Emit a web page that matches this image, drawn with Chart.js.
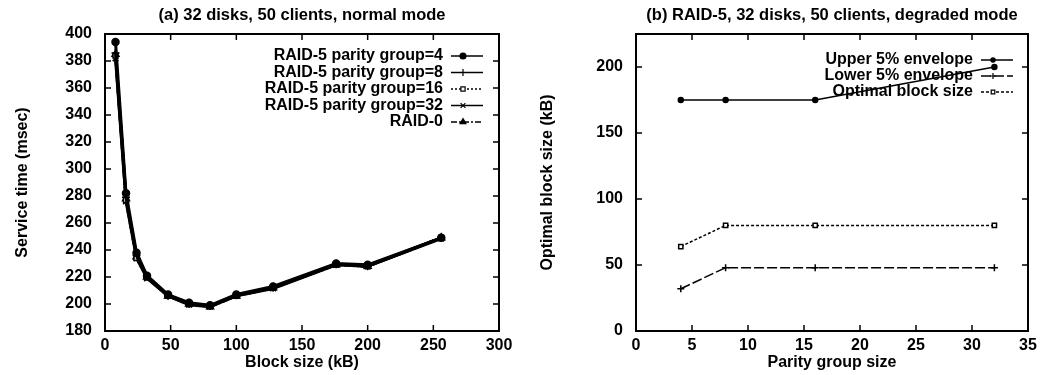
<!DOCTYPE html>
<html>
<head>
<meta charset="utf-8">
<script src="https://cdn.jsdelivr.net/npm/chart.js@4.4.1/dist/chart.umd.min.js"></script>
<style>
  body { margin: 0; background: #fff; }
  #wrap { position: relative; width: 1042px; height: 375px; }
  canvas { position: absolute; top: 0; }
  #c1 { left: 0; }
  #c2 { left: 520px; }
</style>
</head>
<body>
<div id="wrap">
  <canvas id="c1" width="520" height="375"></canvas>
  <canvas id="c2" width="522" height="375"></canvas>
</div>
<script>
// (a) service time vs block size
var blockSizes = [8, 16, 24, 32, 48, 64, 80, 100, 128, 176, 200, 256];
var raid5g4  = [394, 282, 238, 221, 207, 201, 199, 207, 213, 230, 229, 249];
var raid5g8  = [386, 279, 236, 220, 206, 200, 198.5, 206.5, 212, 229.5, 228, 249];
var raid5g16 = [384, 277, 234, 220, 206, 200, 198.5, 206, 212, 229.5, 228, 249];
var raid5g32 = [382, 276, 234, 219, 206, 199.5, 198, 206, 211.5, 229, 228, 248.5];
var raid0    = [385, 278, 235, 220, 206, 200, 198, 206, 212, 229, 228, 249];
var xTicksA = [0, 50, 100, 150, 200, 250, 300];
var yTicksA = [180, 200, 220, 240, 260, 280, 300, 320, 340, 360, 380, 400];

// (b) optimal block size vs parity group size
var parityGroups = [4, 8, 16, 32];
var upperEnv     = [175, 175, 175, 200];
var lowerEnv     = [32, 48, 48, 48];
var optimalBlock = [64, 80, 80, 80];
var xTicksB = [0, 5, 10, 15, 20, 25, 30, 35];
var yTicksB = [0, 50, 100, 150, 200];

Chart.defaults.color = '#000';
Chart.defaults.font.family = '"Liberation Sans", Arial, sans-serif';
Chart.defaults.font.weight = 'bold';
Chart.defaults.font.size = 16;

function pts(xs, ys) {
    return xs.map(function(x, i) { return {x: x, y: ys[i]}; });
}

// gnuplot style key: text right aligned, sample to the right
var keyPlugin = {
    id: 'key',
    beforeDatasetsDraw: function(chart, args, opts) {
        var ctx = chart.ctx;
        ctx.save();
        ctx.font = 'bold 16px "Liberation Sans", Arial, sans-serif';
        ctx.textAlign = 'right';
        ctx.textBaseline = 'middle';
        chart.data.datasets.forEach(function(ds, i) {
            var y = opts.top + i * opts.spacing;
            ctx.fillStyle = '#000';
            ctx.fillText(ds.label, opts.right, y);
            ctx.beginPath();
            ctx.setLineDash(ds.borderDash || []);
            ctx.lineWidth = 1.5;
            ctx.strokeStyle = '#000';
            ctx.moveTo(opts.right + 8, y);
            ctx.lineTo(opts.right + 40, y);
            ctx.stroke();
            ctx.setLineDash([]);
            ctx.fillStyle = ds.pointBackgroundColor;
            ctx.lineWidth = 1.2;
            Chart.helpers.drawPoint(ctx, {pointStyle: ds.pointStyle, radius: ds.pointRadius * 0.85, rotation: 0, borderWidth: 1.2}, opts.right + 20, y);
        });
        ctx.restore();
    }
};

// box round the plot with inward ticks on all sides
var framePlugin = {
    id: 'frame',
    afterDraw: function(chart) {
        var ctx = chart.ctx, a = chart.chartArea, sx = chart.scales.x, sy = chart.scales.y;
        ctx.save();
        ctx.strokeStyle = '#000';
        ctx.lineWidth = 2;
        ctx.strokeRect(a.left, a.top, a.right - a.left, a.bottom - a.top);
        ctx.lineWidth = 1.5;
        ctx.beginPath();
        sx.ticks.forEach(function(t) {
            var px = sx.getPixelForValue(t.value);
            ctx.moveTo(px, a.bottom); ctx.lineTo(px, a.bottom - 6);
            ctx.moveTo(px, a.top); ctx.lineTo(px, a.top + 6);
        });
        sy.ticks.forEach(function(t) {
            var py = sy.getPixelForValue(t.value);
            ctx.moveTo(a.left, py); ctx.lineTo(a.left + 6, py);
            ctx.moveTo(a.right, py); ctx.lineTo(a.right - 6, py);
        });
        ctx.stroke();
        ctx.restore();
    }
};

function ds(label, xs, ys, style, radius, dash, fill, width) {
    return {
        label: label,
        data: pts(xs, ys),
        borderColor: '#000',
        borderWidth: width,
        borderDash: dash,
        pointStyle: style,
        pointRadius: radius,
        pointBorderWidth: 1.5,
        pointBorderColor: '#000',
        pointBackgroundColor: fill,
        showLine: true,
        tension: 0
    };
}

function opts(title, xTitle, yTitle, xmin, xmax, ymin, ymax, xTicks, yTicks, yWidth, yTitlePad, padRight, key) {
    return {
        responsive: false,
        animation: false,
        devicePixelRatio: 1,
        layout: { padding: { left: 0, right: padRight, top: 0, bottom: 0 } },
        plugins: {
            legend: { display: false },
            tooltip: { enabled: false },
            title: {
                display: true,
                text: title,
                fullSize: false,
                font: { size: 16.5, weight: 'bold' },
                padding: { top: 6, bottom: 8.2 }
            },
            key: key
        },
        scales: {
            x: {
                type: 'linear',
                min: xmin, max: xmax,
                grid: { display: false, drawTicks: false },
                border: { display: false },
                ticks: { padding: 5, autoSkip: false },
                afterBuildTicks: function(s) { s.ticks = xTicks.map(function(v) { return {value: v}; }); },
                afterFit: function(s) { s.height = 44; },
                title: { display: true, text: xTitle, padding: { top: 0, bottom: 3 } }
            },
            y: {
                type: 'linear',
                min: ymin, max: ymax,
                grid: { display: false, drawTicks: false },
                border: { display: false },
                ticks: { padding: 13, autoSkip: false },
                afterBuildTicks: function(s) { s.ticks = yTicks.map(function(v) { return {value: v}; }); },
                afterFit: function(s) { s.width = yWidth; },
                title: { display: true, text: yTitle, padding: { top: yTitlePad, bottom: 0 } }
            }
        }
    };
}

new Chart(document.getElementById('c1'), {
    type: 'scatter',
    data: {
        datasets: [
            ds('RAID-5 parity group=4', blockSizes, raid5g4, 'circle', 3.5, [], '#000', 3),
            ds('RAID-5 parity group=8', blockSizes, raid5g8, 'cross', 4, [], '#000', 3),
            ds('RAID-5 parity group=16', blockSizes, raid5g16, 'rect', 3.5, [2, 2], '#fff', 3),
            ds('RAID-5 parity group=32', blockSizes, raid5g32, 'crossRot', 4, [], '#000', 3),
            ds('RAID-0', blockSizes, raid0, 'triangle', 4, [6, 2, 2, 2], '#000', 3)
        ]
    },
    options: opts('(a) 32 disks, 50 clients, normal mode', 'Block size (kB)', 'Service time (msec)',
        0, 300, 180, 400, xTicksA, yTicksA, 105, 13, 21,
        { right: 443, top: 56, spacing: 16.5 }),
    plugins: [keyPlugin, framePlugin]
});

new Chart(document.getElementById('c2'), {
    type: 'scatter',
    data: {
        datasets: [
            ds('Upper 5% envelope', parityGroups, upperEnv, 'circle', 2.5, [], '#000', 1.5),
            ds('Lower 5% envelope', parityGroups, lowerEnv, 'cross', 3.5, [10, 3], '#000', 1.5),
            ds('Optimal block size', parityGroups, optimalBlock, 'rect', 3, [3, 2], '#fff', 1.5)
        ]
    },
    options: opts('(b) RAID-5, 32 disks, 50 clients, degraded mode', 'Parity group size', 'Optimal block size (kB)',
        0, 35, 0, 225, xTicksB, yTicksB, 116, 18, 14,
        { right: 453, top: 60, spacing: 16 }),
    plugins: [keyPlugin, framePlugin]
});
</script>
</body>
</html>
